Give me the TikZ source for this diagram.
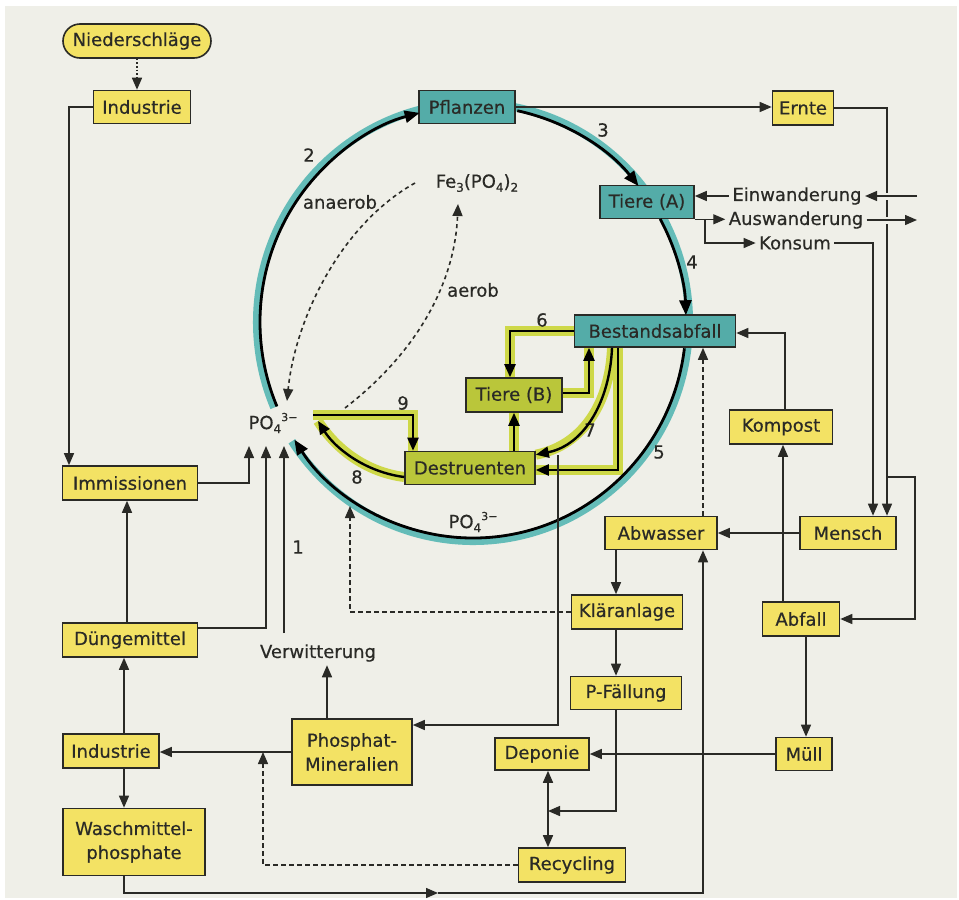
\documentclass[tikz,border=0pt]{standalone}
\usepackage{fontspec}
\setmainfont{DejaVu Sans}[FakeBold=0.5]
\usetikzlibrary{arrows.meta,calc}
\definecolor{bg}{RGB}{239,239,232}
\definecolor{yel}{RGB}{243,226,100}
\definecolor{tealbox}{RGB}{84,172,168}
\definecolor{tealband}{RGB}{100,188,184}
\definecolor{limebox}{RGB}{186,198,58}
\definecolor{limeband}{RGB}{206,216,72}
\definecolor{ln}{RGB}{42,42,38}
\pgfdeclarelayer{back}
\pgfdeclarelayer{bands}
\pgfsetlayers{back,bands,main}
\newcommand{\pofour}{PO\raisebox{-4pt}{\fontsize{12}{12}\selectfont 4}\raisebox{8pt}{\fontsize{11}{11}\selectfont 3−}}
\newcommand{\fephos}{Fe\raisebox{-4pt}{\fontsize{12}{12}\selectfont 3}(PO\raisebox{-4pt}{\fontsize{12}{12}\selectfont 4})\raisebox{-4pt}{\fontsize{12}{12}\selectfont 2}}
\begin{document}
\begin{tikzpicture}[x=1pt,y=-1pt,font=\fontsize{18}{24}\selectfont,
  box/.style={draw=ln, line width=1.6pt, inner sep=0pt, text=ln},
  ybox/.style={box, fill=yel},
  tbox/.style={box, fill=tealbox},
  gbox/.style={box, fill=limebox},
  lbl/.style={text=ln},
  conn/.style={draw=ln, line width=1.4pt, -{Triangle[length=12pt,width=10pt]}},
  dconn/.style={conn, dash pattern=on 4.5pt off 3.5pt},
  dotconn/.style={conn, line width=1.6pt, dash pattern=on 1.6pt off 2pt},
  twoway/.style={draw=ln, line width=1.6pt, {Triangle[length=12pt,width=10pt]}-{Triangle[length=12pt,width=10pt]}},
  bigarr/.style={draw=black, line width=2.8pt, -{Triangle[length=15pt,width=12pt]}},
  garr/.style={draw=black, line width=2.4pt, -{Triangle[length=13pt,width=11pt]}},
  fedash/.style={conn, line width=1.6pt, dash pattern=on 4pt off 3.5pt},
  tband/.style={draw=tealband, line width=8pt},
  lband/.style={draw=limeband, line width=10pt}]
\useasboundingbox (0,0) rectangle (959,900);
\begin{pgfonlayer}{back}
\fill[bg] (5,6) rectangle (957,898);
\end{pgfonlayer}

% ---------- nodes ----------
\node[ybox, rounded corners=17pt, minimum width=148pt, minimum height=34pt] (NS) at (137,41) {Niederschläge};
\node[ybox, minimum width=97pt, minimum height=33pt] (IN1) at (142,107) {Industrie};
\node[tbox, minimum width=96pt, minimum height=33pt] (PF) at (467,107) {Pflanzen};
\node[ybox, minimum width=61pt, minimum height=34pt] (ER) at (803,108) {Ernte};
\node[tbox, minimum width=94pt, minimum height=33pt] (TA) at (647,202) {Tiere (A)};
\node[lbl] (EW) at (797,196) {Einwanderung};
\node[lbl] (AU) at (796,220) {Auswanderung};
\node[lbl] (KS) at (795,243) {Konsum};
\node[tbox, minimum width=161pt, minimum height=32pt] (BA) at (655,331) {Bestandsabfall};
\node[gbox, minimum width=96pt, minimum height=34pt] (TB) at (514,395) {Tiere (B)};
\node[gbox, minimum width=130pt, minimum height=33pt] (DE) at (470,468) {Destruenten};
\node[ybox, minimum width=103pt, minimum height=34pt] (KO) at (781,427) {Kompost};
\node[lbl, inner sep=1pt] (PO) at (273,423) {\pofour};
\node[lbl, inner sep=1pt] (PO2) at (473,522) {\pofour};
\node[lbl] (FE) at (477,183) {\fephos};
\node[lbl] (AN) at (340,202) {anaerob};
\node[lbl] (AE) at (473,290) {aerob};
\node[ybox, minimum width=135pt, minimum height=34pt] (IM) at (130,483) {Immissionen};
\node[ybox, minimum width=135pt, minimum height=34pt] (DU) at (130,640) {Düngemittel};
\node[lbl] (VW) at (318,653) {Verwitterung};
\node[ybox, minimum width=96pt, minimum height=34pt] (IN2) at (111,751) {Industrie};
\node[ybox, minimum width=120pt, minimum height=66pt, align=center] (PM) at (352,752) {Phosphat-\\Mineralien};
\node[ybox, minimum width=142pt, minimum height=67pt, align=center] (WA) at (134,842) {Waschmittel-\\phosphate};
\node[ybox, minimum width=112pt, minimum height=33pt] (AW) at (661,533) {Abwasser};
\node[ybox, minimum width=96pt, minimum height=33pt] (ME) at (848,533) {Mensch};
\node[ybox, minimum width=111pt, minimum height=34pt] (KL) at (627,612) {Kläranlage};
\node[ybox, minimum width=77pt, minimum height=34pt] (AB) at (801,619) {Abfall};
\node[ybox, minimum width=111pt, minimum height=33pt] (PFa) at (626,693) {P-Fällung};
\node[ybox, minimum width=94pt, minimum height=32pt] (DP) at (542,754) {Deponie};
\node[ybox, minimum width=56pt, minimum height=33pt] (MU) at (804,754) {Müll};
\node[ybox, minimum width=107pt, minimum height=34pt] (RC) at (572,865) {Recycling};

% number labels
\node[lbl] at (309,155) {2};
\node[lbl] at (603,130) {3};
\node[lbl] at (692,262) {4};
\node[lbl] at (659,452) {5};
\node[lbl] at (542,320) {6};
\node[lbl] at (590,430) {7};
\node[lbl] at (357,477) {8};
\node[lbl] at (403,403) {9};
\node[lbl] at (298,547) {1};

% helper coordinates
\coordinate (C) at (473,322);
\coordinate (eb) at (887,477);
\coordinate (ebr) at (915,477);
\coordinate (ein) at (917,196);
\coordinate (aus) at (917,220);
\coordinate (kc) at (350,506);
\coordinate (J) at (548,811);
\coordinate (wm) at (438,893);
\coordinate (rcj) at (263,752);
\coordinate (dp) at (558,455);
\coordinate (pa) at (249,446);
\coordinate (pb) at (266,446);
\coordinate (pc) at (284,446);
\coordinate (vwt) at (284,633);
\coordinate (p8e) at (318,421);
\coordinate (p9s) at (313,415);
\coordinate (an1) at (415,183);
\coordinate (an2) at (287,401);
\coordinate (ae1) at (345,408);
\coordinate (ae2) at (458,204);

% ---------- bands ----------
\begin{pgfonlayer}{bands}
\draw[tband] ($(C)+(213:216pt and 219pt)$) arc[start angle=213, end angle=563, x radius=216pt, y radius=219pt];
\draw[lband] (BA.west) -| ([xshift=-4pt]TB.north);
\draw[lband] ([yshift=2pt]TB.east) -| ([xshift=-66pt]BA.south);
\draw[lband] ([xshift=-43pt]BA.south) .. controls (610,400) and (585,445) .. ([yshift=-4pt]DE.north east);
\draw[lband] ([xshift=-37pt]BA.south) |- ([yshift=-2pt]DE.east);
\draw[lband] (DE.north -| TB.south) -- (TB.south);
\draw[lband] ([yshift=-9pt]DE.west) .. controls (365,472) and (335,448) .. (p8e);
\draw[lband] (p9s) -| ([xshift=-57pt]DE.north);
\end{pgfonlayer}

% ---------- main cycle arcs ----------
\draw[bigarr] ($(C)+(203:213pt and 216pt)$) arc[start angle=203, end angle=104.5, x radius=213pt, y radius=216pt];
\draw[bigarr] ($(C)+(78:213pt and 216pt)$) arc[start angle=78, end angle=39, x radius=213pt, y radius=216pt];
\draw[bigarr] ($(C)+(28.5:213pt and 216pt)$) arc[start angle=28.5, end angle=1.8, x radius=213pt, y radius=216pt];
\draw[bigarr] ($(C)+(-7:213pt and 216pt)$) arc[start angle=-7, end angle=-147, x radius=213pt, y radius=216pt];

% ---------- inner (lime) system ----------
\draw[garr] (BA.west) -| ([xshift=-4pt]TB.north);
\draw[garr] ([yshift=2pt]TB.east) -| ([xshift=-66pt]BA.south);
\draw[garr] ([xshift=-43pt]BA.south) .. controls (610,400) and (585,445) .. ([yshift=-4pt]DE.north east);
\draw[garr] ([xshift=-37pt]BA.south) |- ([yshift=-2pt]DE.east);
\draw[garr] (DE.north -| TB.south) -- (TB.south);
\draw[garr] ([yshift=-9pt]DE.west) .. controls (365,472) and (335,448) .. (p8e);
\draw[garr] (p9s) -| ([xshift=-57pt]DE.north);

% ---------- dashed Fe arrows ----------
\draw[fedash] (an1) .. controls (340,225) and (295,320) .. (an2);
\draw[fedash] (ae1) .. controls (420,350) and (455,280) .. (ae2);

% ---------- thin connectors ----------
\draw[dotconn] (NS.south) -- (NS.south |- IN1.north);
\draw[conn] (IN1.west) -| ([xshift=-61pt]IM.north);
\draw[conn] (PF.east) -- (PF.east -| ER.west);
\draw[conn] (ER.east) -| ([xshift=39pt]ME.north);
\draw[conn] (eb) -- (ebr) |- (AB.east);
\path[draw=bg, line width=7pt] (ein) -- ([xshift=10pt]EW.east);
\path[draw=bg, line width=7pt] ([xshift=8pt]AU.east) -- (aus);
\draw[conn] (ein) -- (EW.east);
\draw[conn] (EW.west) -- (EW.west -| TA.east);
\draw[conn] (TA.south east) -- (TA.south east -| AU.west);
\draw[conn] (AU.east) -- (aus);
\draw[conn] ([xshift=58pt]TA.south) |- (KS.west);
\draw[conn] (KS.east) -| ([xshift=25pt]ME.north);
\draw[conn] ([xshift=4pt]KO.north) |- ([yshift=-2pt]BA.east);
\draw[conn] ([xshift=-18pt]AB.north) -- ([xshift=-18pt]AB.north |- KO.south);
\draw[conn] ([xshift=5pt]AB.south) -- ([xshift=5pt]AB.south |- MU.north);
\draw[conn] (ME.west) -- (AW.east);
\draw[dconn] ([xshift=42pt]AW.north) -- ([xshift=42pt]AW.north |- BA.south);
\draw[conn] ([xshift=-45pt]AW.south) -- ([xshift=-45pt]AW.south |- KL.north);
\draw[conn] ([xshift=-11pt]KL.south) -- ([xshift=-11pt]KL.south |- PFa.north);
\draw[dconn] (KL.west) -| (kc);
\draw[conn] ([xshift=-10pt]PFa.south) |- (J);
\draw[twoway] ([xshift=6pt]DP.south) -- ([xshift=6pt]DP.south |- RC.north);
\draw[conn] (MU.west) -- (MU.west -| DP.east);
\draw[conn] ([xshift=-10pt]WA.south) |- (wm);
\draw[conn] (wm) -| ([xshift=42pt]AW.south);
\draw[dconn] (RC.west) -| (rcj);
\draw[conn] (dp) |- ([yshift=27pt]PM.east);
\draw[conn] (PM.west) -- (PM.west -| IN2.east);
\draw[conn] ([xshift=-25pt]PM.north) -- ([xshift=-25pt]PM.north |- VW.south);
\draw[conn] ([xshift=13pt]IN2.north) -- ([xshift=13pt]IN2.north |- DU.south);
\draw[conn] ([xshift=13pt]IN2.south) -- ([xshift=13pt]IN2.south |- WA.north);
\draw[conn] ([xshift=-3pt]DU.north) -- ([xshift=-3pt]DU.north |- IM.south);
\draw[conn] (IM.east) -| (pa);
\draw[conn] ([yshift=12pt]DU.east) -| (pb);
\draw[conn] (vwt) -- (pc);
\end{tikzpicture}
\end{document}
